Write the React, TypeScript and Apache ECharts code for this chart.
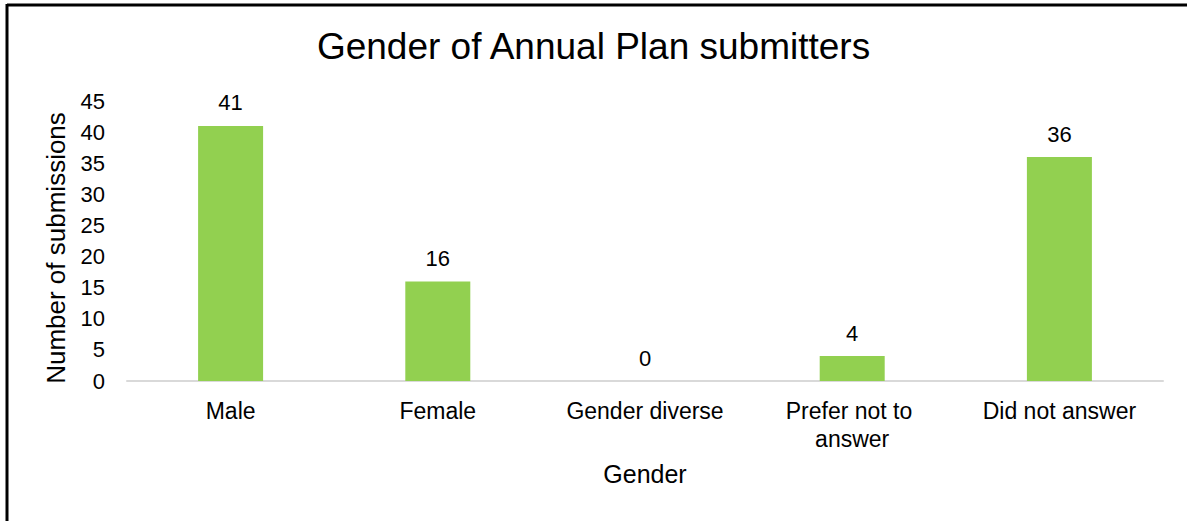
import React, { useEffect, useRef } from "react";
import * as echarts from "echarts";

const titleText = "Gender of Annual Plan submitters";
const categories = ["Male", "Female", "Gender diverse", "Prefer not to answer", "Did not answer"];
const submissions = [41, 16, 0, 4, 36];
const yAxisName = "Number of submissions";
const xAxisName = "Gender";

const FONT = "'Liberation Sans', Arial, sans-serif";

export default function App() {
  const ref = useRef<HTMLDivElement>(null);
  useEffect(() => {
    if (!ref.current) return;
    const chart = echarts.init(ref.current, undefined, { renderer: "svg" });
    chart.setOption({
      animation: false,
      backgroundColor: "#ffffff",
      textStyle: { fontFamily: FONT, color: "#000" },
      title: {
        text: titleText,
        left: "center",
        top: 23,
        textStyle: { fontFamily: FONT, fontSize: 37, fontWeight: "normal", color: "#000" },
      },
      graphic: [
        {
          type: "line",
          shape: { x1: 7, y1: 5, x2: 1187, y2: 5 },
          style: { stroke: "#000", lineWidth: 3 },
          silent: true,
        },
        {
          type: "line",
          shape: { x1: 7, y1: 4, x2: 7, y2: 521 },
          style: { stroke: "#000", lineWidth: 3 },
          silent: true,
        },
      ],
      grid: { left: 127, right: 24, top: 101, bottom: 140, containLabel: false },
      xAxis: {
        type: "category",
        data: categories,
        name: xAxisName,
        nameLocation: "middle",
        nameGap: 80,
        nameTextStyle: { fontFamily: FONT, fontSize: 25, color: "#000" },
        axisLine: { show: true, lineStyle: { color: "#d9d9d9", width: 2 } },
        axisTick: { show: false },
        axisLabel: {
          fontFamily: FONT,
          fontSize: 23,
          color: "#000",
          margin: 16,
          interval: 0,
          width: 190,
          overflow: "break",
          lineHeight: 28,
        },
      },
      yAxis: {
        type: "value",
        min: 0,
        max: 45,
        interval: 5,
        name: yAxisName,
        nameLocation: "middle",
        nameGap: 58,
        nameTextStyle: { fontFamily: FONT, fontSize: 26, color: "#000", padding: [0, 14, 0, 0] },
        axisLine: { show: false },
        axisTick: { show: false },
        splitLine: { show: false },
        axisLabel: { fontFamily: FONT, fontSize: 22, color: "#000", margin: 22 },
      },
      series: [
        {
          type: "bar",
          data: submissions,
          barWidth: 65,
          itemStyle: { color: "#92D050" },
          label: {
            show: true,
            position: "top",
            distance: 12,
            fontFamily: FONT,
            fontSize: 22,
            color: "#000",
          },
        },
      ],
    });
    return () => chart.dispose();
  }, []);
  return (
    <div
      ref={ref}
      style={{ position: "absolute", left: 0, top: 0, width: 1187, height: 521 }}
    />
  );
}
